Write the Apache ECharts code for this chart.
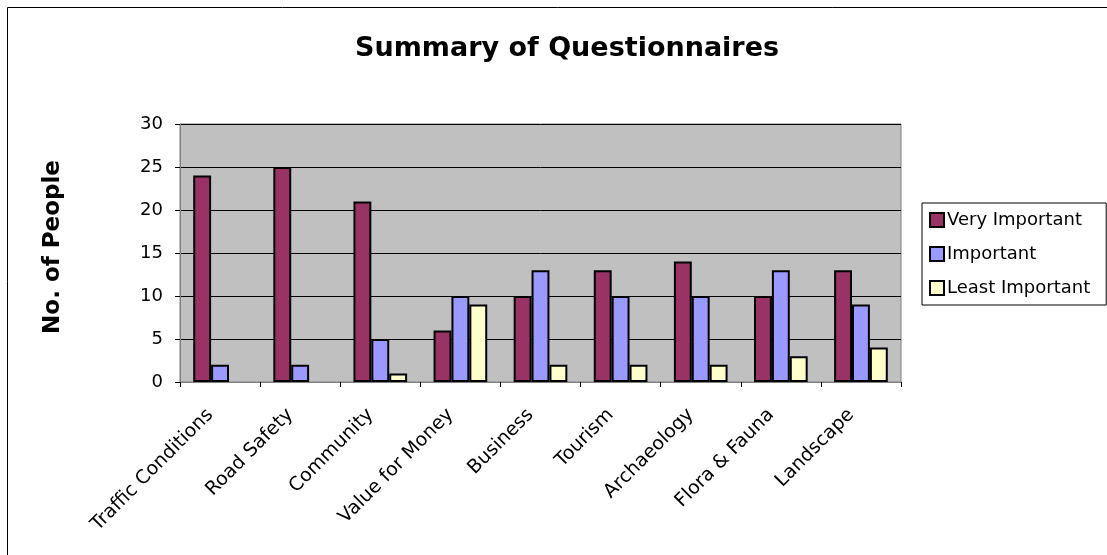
<!DOCTYPE html>
<html>
<head>
<meta charset="utf-8">
<script src="https://cdn.jsdelivr.net/npm/echarts@6/dist/echarts.min.js"></script>
<style>
  html, body { margin: 0; padding: 0; background: #fff; }
  #chart { width: 1107px; height: 555px; }
</style>
</head>
<body>
<div id="chart"></div>
<script>
const categories = ['Traffic Conditions', 'Road Safety', 'Community', 'Value for Money', 'Business', 'Tourism', 'Archaeology', 'Flora & Fauna', 'Landscape']
const veryImportant = [24, 25, 21, 6, 10, 13, 14, 10, 13]
const important = [2, 2, 5, 10, 13, 10, 10, 13, 9]
const leastImportant = [0, 0, 1, 9, 2, 2, 2, 3, 4]
const yTicks = [0, 5, 10, 15, 20, 25, 30]

// wide Arial-like metrics of the original fit DejaVu best
const font = 'DejaVu Sans, Liberation Sans, sans-serif'
const chart = echarts.init(document.getElementById('chart'))

// a zero bar isn't drawn at all in the original, not even its border
const barSeries = (name, data, color) => ({
  name,
  type: 'bar',
  data: data.map(v => (v === 0 ? null : v)),
  barGap: '0%',
  barCategoryGap: '33%',
  itemStyle: { color, borderColor: '#000', borderWidth: 2 }
})

chart.setOption({
  animation: false,
  backgroundColor: '#fff',
  textStyle: { fontFamily: font },
  title: {
    text: 'Summary of Questionnaires',
    left: 350,
    top: 30,
    textStyle: { fontFamily: font, fontSize: 27, fontWeight: 'bold', color: '#000' }
  },
  graphic: [{
    type: 'rect',
    shape: { x: 7.5, y: 7.5, width: 1110, height: 560 },
    style: { fill: 'none', stroke: '#000', lineWidth: 1 },
    silent: true
  }],
  legend: {
    orient: 'vertical',
    left: 922,
    top: 203,
    padding: [7, 16, 7, 7],
    icon: 'rect',
    itemWidth: 14,
    itemHeight: 14,
    itemGap: 14,
    borderColor: '#000',
    borderWidth: 1,
    backgroundColor: '#fff',
    textStyle: { fontFamily: font, fontSize: 18, color: '#000', lineHeight: 20, padding: [0, 0, 0, -2] },
    data: ['Very Important', 'Important', 'Least Important']
  },
  grid: {
    left: 180,
    right: 206,
    top: 124,
    height: 258,
    show: true,
    backgroundColor: '#c0c0c0',
    borderColor: '#808080',
    borderWidth: 1
  },
  xAxis: {
    type: 'category',
    data: categories,
    axisLine: { lineStyle: { color: '#808080', width: 1 } },
    axisTick: { show: true, length: 5, lineStyle: { color: '#000' } },
    axisLabel: {
      rotate: 45, fontFamily: font, fontSize: 19, color: '#000',
      margin: 20, padding: [0, 14, 0, 0], interval: 0
    }
  },
  yAxis: {
    type: 'value',
    min: yTicks[0],
    max: yTicks[yTicks.length - 1],
    interval: 5,
    name: 'No. of People',
    nameLocation: 'middle',
    nameGap: 115,
    nameTextStyle: { fontFamily: font, fontSize: 23, fontWeight: 'bold', color: '#000', padding: [0, 0, 0, 12] },
    axisLine: { show: true, lineStyle: { color: '#808080', width: 1 } },
    axisTick: { show: true, length: 5, lineStyle: { color: '#000' } },
    axisLabel: { fontFamily: font, fontSize: 18, color: '#000', margin: 17 },
    splitLine: { show: true, lineStyle: { color: '#000', width: 1 } }
  },
  series: [
    barSeries('Very Important', veryImportant, '#993366'),
    barSeries('Important', important, '#9999ff'),
    barSeries('Least Important', leastImportant, '#ffffcc')
  ]
})
</script>
</body>
</html>
